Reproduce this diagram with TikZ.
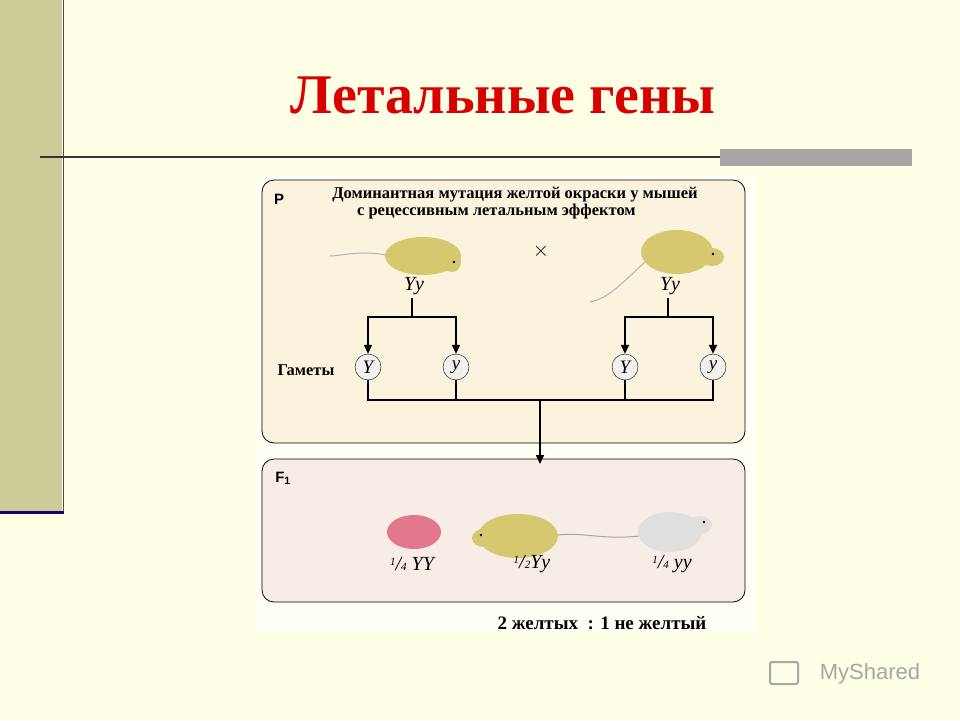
\documentclass[tikz,border=0pt]{standalone}
\usepackage{fontspec}
\setmainfont{Liberation Serif}
\newfontfamily\sansf{Liberation Sans}
\usetikzlibrary{arrows.meta}
\definecolor{bg}{RGB}{255,255,229}
\definecolor{olive}{RGB}{204,204,153}
\definecolor{ptop}{RGB}{251,243,222}
\definecolor{pbot}{RGB}{248,236,230}
\definecolor{myel}{RGB}{214,200,110}
\definecolor{mpink}{RGB}{225,120,140}
\definecolor{mwhite}{RGB}{225,222,222}
\newcommand{\myfrac}[2]{{\fontsize{11}{11}\selectfont\raisebox{5pt}{#1}}/{\fontsize{11}{11}\selectfont #2}}
\tikzset{
 panel/.style={draw=black, rounded corners=12pt, line width=0.8pt},
 gam/.style={circle, draw=black, fill=gray!12, minimum size=26pt, inner sep=0pt, font=\itshape\fontsize{19}{19}\selectfont},
 geno/.style={font=\itshape\fontsize{20}{20}\selectfont},
 lab/.style={font=\bfseries\fontsize{16.5}{17}\selectfont, align=left},
 conn/.style={line width=1.6pt},
 arr/.style={line width=1.6pt, -{Triangle[length=9pt,width=8pt]}},
 tail/.style={line width=1pt, line cap=round}
}
\begin{document}
\begin{tikzpicture}[x=1pt,y=-1pt]
\fill[bg] (0,0) rectangle (960,720);
\useasboundingbox (0,0) rectangle (960,720);
\fill[olive] (0,0) rectangle (62,512);
\draw[line width=1pt, black!70] (63,0) -- (63,512);
\draw[line width=3pt, black!80!red!60!blue] (0,512) -- (64,512);
\draw[line width=1.5pt, black!80] (40,157) -- (720,157);
\fill[gray!70] (720,149) rectangle (912,166);
\node[font=\bfseries\fontsize{56}{60}\selectfont, text=red!85!black] (title) at (503,95) {Летальные гены};
\fill[white!60!bg] (256,175) rectangle (756,633);
\draw[panel, fill=ptop] (262,180) rectangle (745,443);
\draw[panel, fill=pbot] (262,459) rectangle (745,602);
\node[font=\sansf\bfseries\fontsize{15}{15}\selectfont] (P) at (279,199) {P};
\node[font=\sansf\bfseries\fontsize{15}{15}\selectfont] (F) at (283,478) {F\textsubscript{1}};
\node[lab] (head) at (515,203) {Доминантная мутация желтой окраски у мышей\\\hspace*{1.5em}с рецессивным летальным эффектом};
% parent mice
\draw[tail, gray!60] (386,255) .. controls (360,250) and (340,256) .. (330,256);
\fill[myel] (423,256) ellipse (38 and 19);
\fill[myel] (452,262) ellipse (9 and 10);
\fill[black] (454,262) circle (1.3);
\draw[tail, gray!60] (645,262) .. controls (625,280) and (610,298) .. (590,302);
\fill[myel] (677,252) ellipse (36 and 22);
\fill[myel] (712,257) ellipse (12 and 9);
\fill[black] (713,254) circle (1.3);
\node[font=\fontsize{20}{20}\selectfont] (x) at (541,251) {$\times$};
\node[geno] (p1) at (414,286) {Yy};
\node[geno] (p2) at (670,286) {Yy};
\node[gam] (g1) at (368,367) {Y};
\node[gam] (g2) at (456,367) {y};
\node[gam] (g3) at (625,367) {Y};
\node[gam] (g4) at (713,367) {y};
\node[font=\bfseries\fontsize{16.5}{16}\selectfont] (gl) at (306,370) {Гаметы};
\draw[conn] (412,298) -- (412,317);
\draw[arr] (412,317) -| (g1.north);
\draw[arr] (412,317) -| (g2.north);
\draw[conn] (668,298) -- (668,317);
\draw[arr] (668,317) -| (g3.north);
\draw[arr] (668,317) -| (g4.north);
\coordinate (j) at (540,400);
\draw[conn] (g1.south) |- (g4.south |- j) -- (g4.south);
\draw[conn] (g2.south) -- (g2.south |- j);
\draw[conn] (g3.south) -- (g3.south |- j);
\draw[arr] (j) -- (540,464);
% F1 mice
\fill[mpink] (414,532) ellipse (27 and 17);
\fill[myel] (518,536) ellipse (40 and 22);
\fill[myel] (484,538) ellipse (12 and 9);
\fill[black] (481,535) circle (1.3);
\draw[tail, gray!70] (558,535) .. controls (585,532) and (600,540) .. (640,536);
\fill[mwhite] (670,532) ellipse (32 and 20);
\fill[mwhite] (700,525) ellipse (12 and 9);
\fill[black] (704,522) circle (1.3);
\node[geno] (f1) at (412,564) {\myfrac{1}{4} YY};
\node[geno] (f2) at (532,564) {\myfrac{1}{2}Yy};
\node[geno] (f3) at (672,564) {\myfrac{1}{4} yy};
\node[font=\bfseries\fontsize{19}{19}\selectfont] (ratio) at (602,623) {2 желтых\ \ : 1 не желтый};
\node[font=\sansf\fontsize{22}{22}\selectfont, text=gray!70] (ms) at (870,674) {MyShared};
\draw[gray!70, line width=2pt, rounded corners=2pt] (770,662) rectangle (798,684);
\end{tikzpicture}
\end{document}
